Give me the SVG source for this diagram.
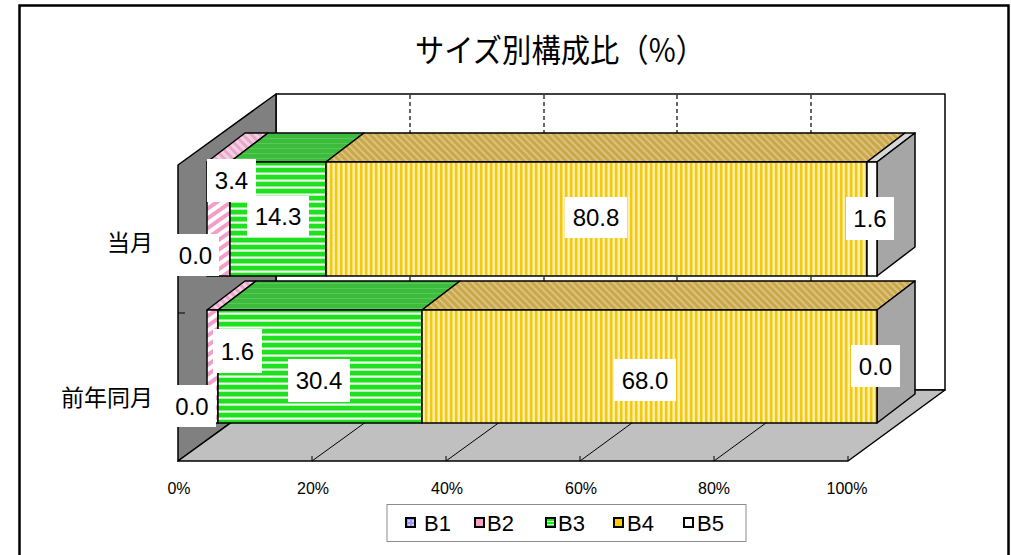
<svg xmlns="http://www.w3.org/2000/svg" width="1011" height="555" viewBox="0 0 1011 555">
<style>
.edge{stroke:#000;stroke-width:1.5;stroke-linejoin:round}
.grid{stroke:#000;stroke-width:1;fill:none}
.dash{stroke:#000;stroke-width:1.2;stroke-dasharray:4,3;fill:none}
.lbl{fill:#fff}
.val{font-family:"Liberation Sans",Arial,sans-serif;font-size:24px;fill:#000;text-anchor:middle}
.cat{font-family:"Noto Sans CJK JP","Noto Sans",sans-serif;font-size:23px;fill:#000;text-anchor:end}
.ax{font-family:"Liberation Sans",Arial,sans-serif;font-size:16px;fill:#000;text-anchor:middle}
.leg{font-family:"Liberation Sans",Arial,sans-serif;font-size:22px;fill:#000}
.mk{stroke:#000;stroke-width:2}
</style>
<defs>
<pattern id="pB1" width="4" height="4" patternUnits="userSpaceOnUse">
<rect width="4" height="4" fill="#9999ff"/><rect width="2" height="2" fill="#ccccff"/>
</pattern>
<pattern id="pB2f" width="8" height="8" patternUnits="userSpaceOnUse" patternTransform="rotate(-35)">
<rect width="8" height="8" fill="#ffffff"/><rect width="8" height="4" fill="#f0a0c8"/>
</pattern>
<pattern id="pB2t" width="6" height="6" patternUnits="userSpaceOnUse" patternTransform="rotate(45)">
<rect width="6" height="6" fill="#f4d0e2"/><rect width="6" height="3" fill="#e8a8c8"/>
</pattern>
<pattern id="pB3f" width="8" height="7" patternUnits="userSpaceOnUse">
<rect width="8" height="7" fill="#1fe01f"/><rect y="4.5" width="8" height="2.2" fill="#f4fff4"/>
</pattern>
<pattern id="pB3t" width="8" height="5" patternUnits="userSpaceOnUse">
<rect width="8" height="5" fill="#3dbb3d"/><rect y="3" width="8" height="1" fill="#58c858"/>
</pattern>
<pattern id="pB4f" width="5" height="8" patternUnits="userSpaceOnUse">
<rect width="5" height="8" fill="#fbe26a"/><rect width="2.2" height="8" fill="#f2c912"/><rect x="3.4" width="1" height="8" fill="#fffbe0"/>
</pattern>
<pattern id="pB4t" width="5" height="5" patternUnits="userSpaceOnUse" patternTransform="rotate(45)">
<rect width="5" height="5" fill="#c9a84c"/><rect width="5" height="2" fill="#dcc27a"/>
</pattern>
<pattern id="pB3m" width="3" height="3" patternUnits="userSpaceOnUse">
<rect width="3" height="3" fill="#00ff00"/><rect y="2" width="3" height="1" fill="#ffffff"/>
</pattern>
</defs>

<rect x="19.5" y="5.5" width="989" height="570" fill="#fff" stroke="#000" stroke-width="2.5"/>

<text x="560" y="62" font-family="'Noto Sans CJK JP','Noto Sans',sans-serif" font-size="32" text-anchor="middle" textLength="290" lengthAdjust="spacingAndGlyphs">サイズ別構成比（%）</text>

<g id="plot-area">
<polygon points="276,94 945,94 945,390 276,390" fill="#fff" class="edge"/>
<polygon points="178,165 276,94 276,390 178,461" fill="#808080" class="edge"/>
<polygon points="178,461 848,461 945,390 276,390" fill="#c0c0c0" class="edge"/>
</g>

<g id="connectors">
<line class="dash" x1="410" y1="95" x2="410" y2="390"/>
<line class="dash" x1="544" y1="95" x2="544" y2="390"/>
<line class="dash" x1="677" y1="95" x2="677" y2="390"/>
<line class="dash" x1="811" y1="95" x2="811" y2="390"/>
<line class="grid" x1="312" y1="461" x2="410" y2="390"/>
<line class="grid" x1="446" y1="461" x2="544" y2="390"/>
<line class="grid" x1="580" y1="461" x2="677" y2="390"/>
<line class="grid" x1="714" y1="461" x2="811" y2="390"/>
<line class="grid" x1="312" y1="461" x2="312" y2="456"/>
<line class="grid" x1="446" y1="461" x2="446" y2="456"/>
<line class="grid" x1="580" y1="461" x2="580" y2="456"/>
<line class="grid" x1="714" y1="461" x2="714" y2="456"/>
<line class="grid" x1="848" y1="461" x2="848" y2="456"/>
<line class="grid" x1="178" y1="313" x2="185" y2="313"/>
</g>

<g id="bar-current">
<polygon class="edge" fill="url(#pB2t)" points="207,162 230,162 268,133 245,133"/>
<polygon class="edge" fill="url(#pB3t)" points="230,162 326,162 364,133 268,133"/>
<polygon class="edge" fill="url(#pB4t)" points="326,162 867,162 905,133 364,133"/>
<polygon class="edge" fill="#d6d6d6" points="867,162 877,162 915,133 905,133"/>
<polygon class="edge" fill="#a6a6a6" points="877,162 915,133 915,247 877,276"/>
<rect class="edge" fill="url(#pB2f)" x="207" y="162" width="23" height="114"/>
<rect class="edge" fill="url(#pB3f)" x="230" y="162" width="96" height="114"/>
<rect class="edge" fill="url(#pB4f)" x="326" y="162" width="541" height="114"/>
<rect class="edge" fill="#fff" x="867" y="162" width="10" height="114"/>
</g>

<g id="bar-previous">
<polygon class="edge" fill="url(#pB2t)" points="207,310 218,310 256,281 245,281"/>
<polygon class="edge" fill="url(#pB3t)" points="218,310 422,310 460,281 256,281"/>
<polygon class="edge" fill="url(#pB4t)" points="422,310 877,310 915,281 460,281"/>
<polygon class="edge" fill="#a6a6a6" points="877,310 915,281 915,394 877,423"/>
<rect class="edge" fill="url(#pB2f)" x="207" y="310" width="11" height="113"/>
<rect class="edge" fill="url(#pB3f)" x="218" y="310" width="204" height="113"/>
<rect class="edge" fill="url(#pB4f)" x="422" y="310" width="455" height="113"/>
</g>

<g id="labels-current">
<rect class="lbl" x="172" y="234" width="47" height="42"/><text class="val" x="195.5" y="263.5">0.0</text>
<rect class="lbl" x="207" y="159" width="49" height="43"/><text class="val" x="231.5" y="189">3.4</text>
<rect class="lbl" x="247" y="196" width="62" height="41"/><text class="val" x="278" y="225">14.3</text>
<rect class="lbl" x="565" y="197" width="62" height="41"/><text class="val" x="596" y="226">80.8</text>
<rect class="lbl" x="846" y="197" width="48" height="43"/><text class="val" x="870" y="227">1.6</text>
</g>

<g id="labels-previous">
<rect class="lbl" x="168" y="385" width="48" height="42"/><text class="val" x="192" y="414.5">0.0</text>
<rect class="lbl" x="213" y="329" width="49" height="44"/><text class="val" x="237.5" y="359.5">1.6</text>
<rect class="lbl" x="288" y="359" width="62" height="43"/><text class="val" x="319" y="389">30.4</text>
<rect class="lbl" x="614" y="359" width="62" height="42"/><text class="val" x="645" y="388.5">68.0</text>
<rect class="lbl" x="851" y="345" width="49" height="42"/><text class="val" x="875.5" y="374.5">0.0</text>
</g>

<g id="category-axis">
<text class="cat" x="153" y="251">当月</text>
<text class="cat" x="153" y="406">前年同月</text>
</g>

<g id="value-axis">
<text class="ax" x="179" y="494">0%</text>
<text class="ax" x="313" y="494">20%</text>
<text class="ax" x="447" y="494">40%</text>
<text class="ax" x="581" y="494">60%</text>
<text class="ax" x="714" y="494">80%</text>
<text class="ax" x="847" y="494">100%</text>
</g>

<g id="legend">
<rect x="387" y="504.5" width="359" height="37" fill="#fff" stroke="#8c8c8c" stroke-width="1"/>
<rect class="mk" x="406" y="518" width="9" height="9" fill="url(#pB1)"/><text class="leg" x="424" y="531">B1</text>
<rect class="mk" x="475" y="518" width="9" height="9" fill="#f3a3c9"/><text class="leg" x="487" y="531">B2</text>
<rect class="mk" x="546" y="518" width="9" height="9" fill="url(#pB3m)"/><text class="leg" x="558" y="531">B3</text>
<rect class="mk" x="614" y="518" width="9" height="9" fill="#ffcc00"/><text class="leg" x="627" y="531">B4</text>
<rect class="mk" x="684" y="518" width="9" height="9" fill="#fff"/><text class="leg" x="697" y="531">B5</text>
</g>
</svg>
